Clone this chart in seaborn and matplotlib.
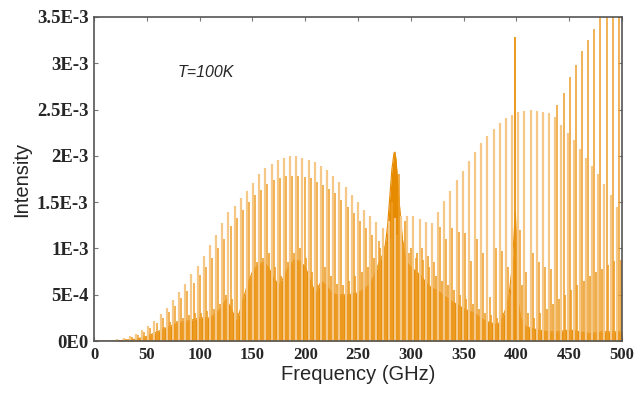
import numpy as np
import pandas as pd
import matplotlib
matplotlib.use("Agg")
import matplotlib.pyplot as plt
import seaborn as sns

# ---------------- data (intensity in units of 1E-3) ----------------
comb_freq = [10.4, 16.2, 22.1, 27.9, 33.8, 39.6, 45.4, 51.3, 57.1, 63.0,
             68.8, 74.6, 80.5, 86.3, 92.2, 98.0, 103.8, 109.7, 115.5, 121.4,
             127.2, 133.0, 138.9, 144.7, 150.6, 156.4, 162.2, 168.1, 173.9, 179.8,
             185.6, 191.4, 197.3, 203.1, 209.0, 214.8, 220.6, 226.5, 232.3, 238.2,
             244.0, 249.8, 255.7, 261.5, 267.4, 273.2, 279.0, 284.9, 290.7, 296.6,
             302.4, 308.2, 314.1, 319.9, 325.8, 331.6, 337.4, 343.3, 349.1, 355.0,
             360.8, 366.6, 372.5, 378.3, 384.2, 390.0, 395.8, 401.7, 407.5, 413.4,
             419.2, 425.0, 430.9, 436.7, 442.6, 448.4, 454.2, 460.1, 465.9, 471.8,
             477.6, 483.4, 489.3, 495.1]

light_int = [0.01, 0.015, 0.02, 0.03, 0.05, 0.08, 0.12, 0.16, 0.22, 0.29,
             0.36, 0.44, 0.53, 0.62, 0.72, 0.81, 0.92, 1.04, 1.15, 1.27,
             1.39, 1.46, 1.54, 1.62, 1.71, 1.80, 1.87, 1.91, 1.95, 1.98,
             2.00, 2.00, 1.98, 1.95, 1.93, 1.89, 1.85, 1.78, 1.72, 1.66,
             1.58, 1.50, 1.42, 1.35, 1.28, 1.22, 1.30, 1.33, 1.35, 1.35,
             1.35, 1.32, 1.29, 1.27, 1.39, 1.51, 1.62, 1.74, 1.84, 1.94,
             2.04, 2.14, 2.21, 2.29, 2.35, 2.41, 2.44, 2.47, 2.48, 2.49,
             2.48, 2.47, 2.46, 2.42, 2.33, 2.25, 2.17, 2.07, 1.98, 1.89,
             1.80, 1.70, 1.58, 1.45]

medium_int = [0.005, 0.01, 0.015, 0.025, 0.04, 0.07, 0.10, 0.14, 0.19, 0.25,
              0.31, 0.38, 0.46, 0.54, 0.63, 0.71, 0.80, 0.90, 1.00, 1.10,
              1.24, 1.33, 1.42, 1.50, 1.58, 1.63, 1.70, 1.74, 1.76, 1.78,
              1.78, 1.78, 1.77, 1.76, 1.72, 1.69, 1.64, 1.60, 1.52, 1.45,
              1.38, 1.30, 1.22, 1.15, 1.08, 1.02, 1.10, 1.15, 1.05, 0.95,
              0.90, 1.00, 0.92, 0.85, 1.23, 1.10, 1.22, 1.18, 1.17, 0.86,
              1.10, 0.95, 0.48, 1.00, 0.97, 0.80, 0.90, 1.20, 0.75, 0.95,
              0.85, 0.80, 0.78, 2.55, 2.68, 2.85, 2.98, 3.13, 3.25, 3.37,
              3.50, 3.70, 3.90, 4.10]

low_int = [0.0, 0.0, 0.0, 0.01, 0.02, 0.03, 0.05, 0.07, 0.10, 0.15,
           0.20, 0.22, 0.25, 0.28, 0.30, 0.30, 0.32, 0.35, 0.40, 0.50,
           0.45, 0.30, 0.45, 0.70, 0.85, 0.90, 0.95, 0.80, 0.70, 0.85,
           0.95, 1.00, 0.90, 0.75, 0.60, 0.80, 0.70, 0.62, 0.60, 0.65,
           0.70, 0.75, 0.80, 0.90, 1.00, 1.05, 1.50, 1.80, 1.30, 1.00,
           0.95, 0.88, 0.80, 0.70, 0.65, 0.60, 0.55, 0.50, 0.45, 0.40,
           0.35, 0.30, 0.28, 0.25, 0.30, 0.50, 1.20, 0.60, 0.30, 0.25,
           0.30, 0.35, 0.40, 0.45, 0.50, 0.55, 0.60, 0.65, 0.70, 0.75,
           0.78, 0.82, 0.86, 0.88]

dense_freq = [0, 20, 40, 50, 60, 70, 80, 90, 100, 110, 120, 125, 130, 135, 140,
              145, 150, 155, 160, 165, 170, 175, 180, 185, 190, 195, 200, 205,
              210, 215, 220, 225, 230, 240, 250, 260, 265, 270, 274, 276, 278,
              280, 282, 284, 285, 286, 288, 290, 292, 294, 296, 300, 305, 310,
              315, 320, 325, 330, 340, 350, 360, 370, 380, 385, 390, 393, 396,
              398, 399, 400, 401, 402, 404, 407, 410, 420, 430, 440, 450, 460,
              470, 480, 490, 500]
dense_int = [0.0, 0.0, 0.02, 0.05, 0.10, 0.15, 0.20, 0.22, 0.25, 0.25, 0.35,
             0.45, 0.35, 0.20, 0.40, 0.60, 0.75, 0.82, 0.85, 0.80, 0.68, 0.60,
             0.70, 0.82, 0.88, 0.86, 0.80, 0.65, 0.50, 0.65, 0.60, 0.52, 0.50,
             0.50, 0.52, 0.60, 0.70, 0.85, 0.95, 1.05, 1.25, 1.55, 1.85, 2.03,
             2.04, 1.95, 1.65, 1.35, 1.10, 0.95, 0.85, 0.80, 0.75, 0.70, 0.62,
             0.57, 0.55, 0.50, 0.42, 0.35, 0.30, 0.22, 0.18, 0.20, 0.35, 0.50,
             0.80, 1.20, 1.40, 1.00, 0.60, 0.40, 0.25, 0.18, 0.15, 0.12, 0.10,
             0.10, 0.12, 0.10, 0.08, 0.10, 0.10, 0.10]

spike_freq = [398.7]
spike_int = [3.28]

xticks = [0, 50, 100, 150, 200, 250, 300, 350, 400, 450, 500]
yticks = [0.0, 0.5e-3, 1.0e-3, 1.5e-3, 2.0e-3, 2.5e-3, 3.0e-3, 3.5e-3]
ytick_labels = ["0E0", "5E-4", "1E-3", "1.5E-3", "2E-3", "2.5E-3", "3E-3", "3.5E-3"]

# ---------------- build tables ----------------
scale = 1e-3
comb = pd.DataFrame({"freq": comb_freq,
                     "light": np.array(light_int) * scale,
                     "medium": np.array(medium_int) * scale,
                     "low": np.array(low_int) * scale})
dense = pd.DataFrame({"freq": dense_freq, "intensity": np.array(dense_int) * scale})
spike = pd.DataFrame({"freq": spike_freq, "intensity": np.array(spike_int) * scale})

# ---------------- figure ----------------
sns.set_style("ticks")
plt.rcParams["font.family"] = ["DejaVu Sans"]

fig = plt.figure(figsize=(6.36, 3.94), dpi=100)
ax = fig.add_axes([0.148, 0.1345, 0.830, 0.8225])

dark = "#E68A00"
medium = "#EE9E28"
light = "#F5C888"

# dense background
ax.fill_between(dense["freq"], 0, dense["intensity"], color=dark, lw=0, zorder=1)
sns.lineplot(data=dense, x="freq", y="intensity", color=dark, lw=0.8, ax=ax, zorder=1)

# stick combs
ax.vlines(comb["freq"] + 3.5, 0, comb["low"], color=medium, lw=1.2, zorder=2)
ax.vlines(comb["freq"], 0, comb["light"], color=light, lw=1.6, zorder=3)
ax.vlines(comb["freq"] + 2.0, 0, comb["medium"], color=medium, lw=1.1, zorder=4)
ax.vlines(spike["freq"], 0, spike["intensity"], color="#E8920F", lw=1.3, zorder=5)

ax.set_xlim(0, 500)
ax.set_ylim(0, 3.5e-3)
ax.set_xticks(xticks)
ax.set_xticklabels([str(t) for t in xticks], family="Liberation Serif",
                   fontweight="bold", fontsize=12)
ax.set_yticks(yticks)
ax.set_yticklabels(ytick_labels, family="Liberation Serif",
                   fontweight="bold", fontsize=13.5)
ax.tick_params(direction="in", length=3, width=0.8, color="#777777",
               top=True, right=True, pad=4)
for s in ax.spines.values():
    s.set_color("#555555")
    s.set_linewidth(1.2)
    s.set_zorder(10)

ax.set_xlabel("Frequency (GHz)", family="Liberation Sans", fontsize=14.5, labelpad=2)
ax.set_ylabel("Intensity", family="Liberation Sans", fontsize=14.5, labelpad=4)
ax.text(106, 2.9e-3, "T=100K", family="Liberation Sans", style="italic",
        fontsize=11.5, ha="center", va="center")

fig.savefig("out.png", dpi=100)
